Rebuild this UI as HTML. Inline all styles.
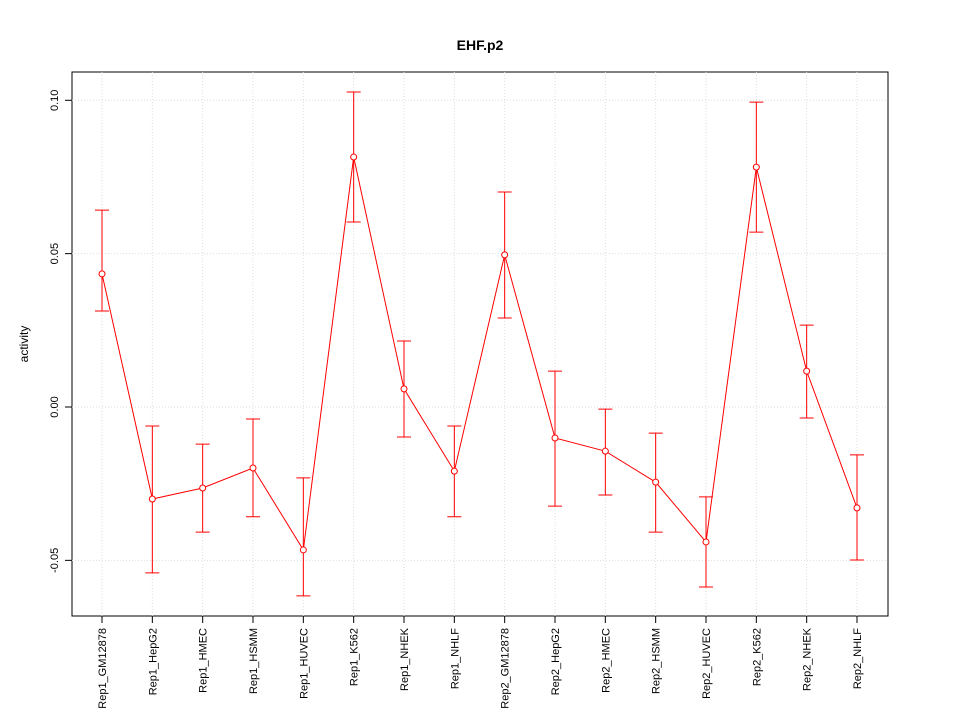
<!DOCTYPE html>
<html><head><meta charset="utf-8"><style>body{margin:0;background:#fff}svg{display:block}text{font-family:"Liberation Sans",sans-serif}</style></head>
<body>
<svg id="c" width="960" height="720">
<text x="480" y="50" text-anchor="middle" font-size="14" font-weight="bold">EHF.p2</text>
<text transform="translate(28,344) rotate(-90)" text-anchor="middle" font-size="12">activity</text>
<rect x="72" y="72" width="816" height="544" fill="none" stroke="#000"/>
<g id="g"></g>
</svg>
<script>
const categories=["Rep1_GM12878","Rep1_HepG2","Rep1_HMEC","Rep1_HSMM","Rep1_HUVEC","Rep1_K562","Rep1_NHEK","Rep1_NHLF","Rep2_GM12878","Rep2_HepG2","Rep2_HMEC","Rep2_HSMM","Rep2_HUVEC","Rep2_K562","Rep2_NHEK","Rep2_NHLF"];
const values=[0.0434,-0.0300,-0.0264,-0.0199,-0.0466,0.0815,0.0059,-0.0209,0.0496,-0.0101,-0.0144,-0.0245,-0.0440,0.0782,0.0117,-0.0329];
const upper=[0.0642,-0.0062,-0.0121,-0.0039,-0.0231,0.1027,0.0215,-0.0062,0.0701,0.0117,-0.0007,-0.0085,-0.0293,0.0994,0.0267,-0.0156];
const lower=[0.0313,-0.0541,-0.0408,-0.0358,-0.0616,0.0603,-0.0098,-0.0358,0.0290,-0.0323,-0.0287,-0.0408,-0.0587,0.0570,-0.0036,-0.0499];
const yTicks=[-0.05,0,0.05,0.10];
const yTickLabels=["-0.05","0.00","0.05","0.10"];
const NS="http://www.w3.org/2000/svg",g=document.getElementById('g');
const xs=i=>102+i*(857-102)/(categories.length-1);
const ys=v=>407-v*3067;
function mk(t,a){const e=document.createElementNS(NS,t);for(const k in a)e.setAttribute(k,a[k]);g.appendChild(e);return e;}
yTicks.forEach((v,i)=>{
 let e=mk('line',{x1:72,x2:888,y1:ys(v),y2:ys(v),stroke:'#ddd','stroke-dasharray':'1,2'});
 
 e=mk('line',{x1:65,x2:72,y1:ys(v),y2:ys(v),stroke:'#000'});
 
 e=mk('text',{transform:`translate(58,${ys(v)}) rotate(-90)`,'text-anchor':'middle','font-size':11});
 e.textContent=yTickLabels[i];
 
});
categories.forEach((c,i)=>{
 const x=xs(i);
 let e=mk('line',{x1:x,x2:x,y1:72,y2:616,stroke:'#ddd','stroke-dasharray':'1,2'});
 
 e=mk('line',{x1:x,x2:x,y1:616,y2:623,stroke:'#000'});
 
 e=mk('text',{transform:`translate(${x+4},628) rotate(-90)`,'text-anchor':'end','font-size':11});
 e.textContent=c;
 
});
categories.forEach((c,i)=>{
 const x=xs(i);
 let e=mk('path',{d:`M${x},${ys(upper[i])}V${ys(lower[i])}M${x-7},${ys(upper[i])}H${x+7}M${x-7},${ys(lower[i])}H${x+7}`,stroke:'#f00',fill:'none'});
 
});
let e=mk('polyline',{points:values.map((v,i)=>xs(i)+','+ys(v)).join(' '),fill:'none',stroke:'#f00'});

values.forEach((v,i)=>{
 const p=mk('circle',{cx:xs(i),cy:ys(v),r:3,fill:'#fff',stroke:'#f00'});
 
 
});
</script>
</body></html>
